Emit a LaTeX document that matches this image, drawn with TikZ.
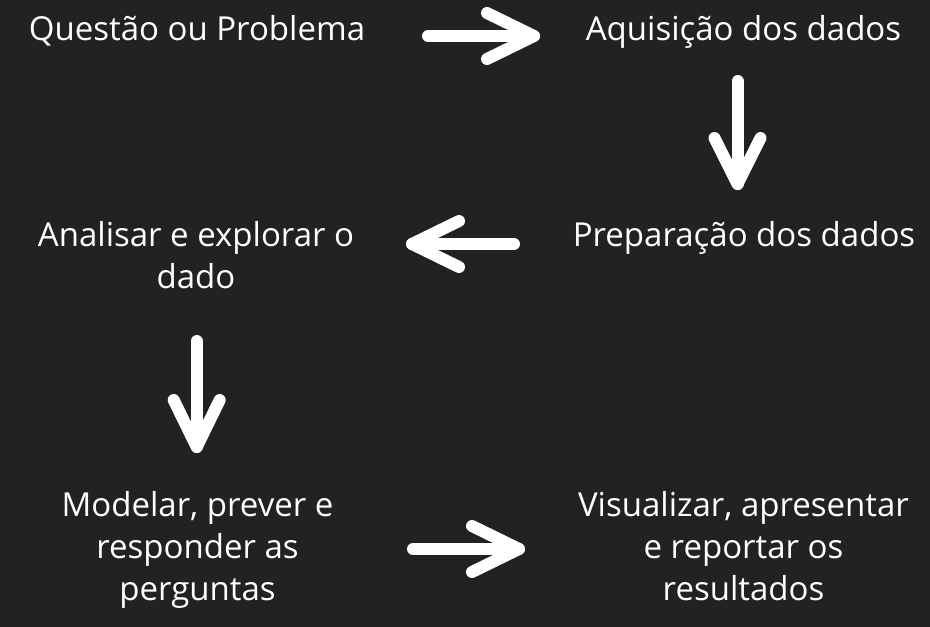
\documentclass[tikz,border=0pt]{standalone}
\usepackage{fontspec}
\setmainfont{Open Sans}
\usetikzlibrary{calc}
\definecolor{bgdark}{HTML}{222222}
\tikzset{
  lbl/.style={text=white, align=center, inner sep=0pt, anchor=base,
    font=\fontsize{33}{42}\selectfont},
  arrline/.style={draw=white, line width=12pt, line cap=round, line join=round},
}
\begin{document}
\begin{tikzpicture}[x=1pt,y=-1pt]
\fill[bgdark] (0,0) rectangle (930,627);
\useasboundingbox (0,0) rectangle (930,627);

% multi-line labels: the base anchor sits on the last line
\node[lbl] (q) at (197,40) {Questão ou Problema};
\node[lbl] (a) at (743.5,40) {Aquisição dos dados};
\node[lbl] (p) at (744,246) {Preparação dos dados};
\node[lbl] (an) at (196,288) {Analisar e explorar o\\dado};
\node[lbl] (m) at (197.5,600) {Modelar, prever e\\responder as\\perguntas};
\node[lbl] (v) at (743.5,600) {Visualizar, apresentar\\e reportar os\\resultados};

% arrow 1: right
\coordinate (a1s) at (428,36);
\coordinate (a1e) at (534,36);
\draw[arrline] (a1s) -- (a1e);
\draw[arrline] ($(a1e)+(-47,-23)$) -- (a1e) -- ($(a1e)+(-47,23)$);

% arrow 2: down
\coordinate (a2s) at (737.5,81);
\coordinate (a2e) at (737.5,184);
\draw[arrline] (a2s) -- (a2e);
\draw[arrline] ($(a2e)+(-23,-46)$) -- (a2e) -- ($(a2e)+(23,-46)$);

% arrow 3: left
\coordinate (a3s) at (514,244);
\coordinate (a3e) at (412,244);
\draw[arrline] (a3s) -- (a3e);
\draw[arrline] ($(a3e)+(47,-23)$) -- (a3e) -- ($(a3e)+(47,23)$);

% arrow 4: down
\coordinate (a4s) at (196.7,341);
\coordinate (a4e) at (196.7,447);
\draw[arrline] (a4s) -- (a4e);
\draw[arrline] ($(a4e)+(-23,-47)$) -- (a4e) -- ($(a4e)+(23,-47)$);

% arrow 5: right
\coordinate (a5s) at (413,549);
\coordinate (a5e) at (519,549);
\draw[arrline] (a5s) -- (a5e);
\draw[arrline] ($(a5e)+(-47,-23)$) -- (a5e) -- ($(a5e)+(-47,23)$);
\end{tikzpicture}
\end{document}
